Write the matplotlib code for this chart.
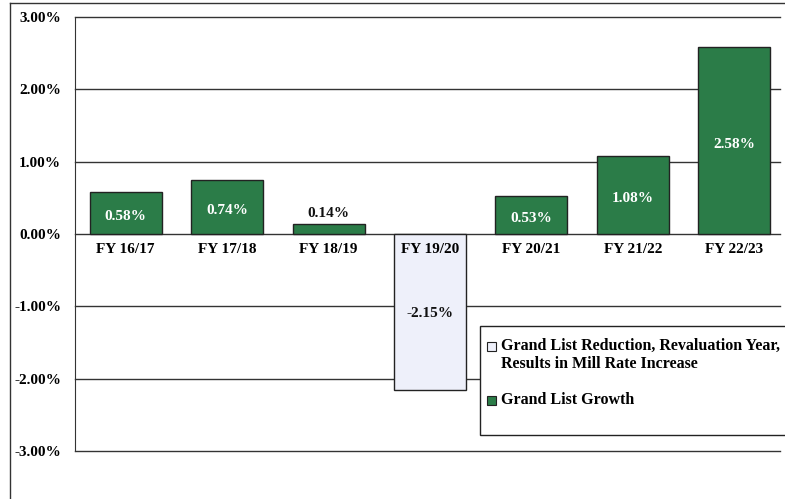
import matplotlib.pyplot as plt
from matplotlib.patches import Rectangle
from matplotlib.lines import Line2D

years = ['FY 16/17', 'FY 17/18', 'FY 18/19', 'FY 19/20', 'FY 20/21', 'FY 21/22', 'FY 22/23']
growth = [0.58, 0.74, 0.14, -2.15, 0.53, 1.08, 2.58]
yticks = [3, 2, 1, 0, -1, -2, -3]
legend_labels = ['Grand List Reduction, Revaluation Year,\nResults in Mill Rate Increase',
                 'Grand List Growth']

green = '#2b7c48'
pale = '#eef0fa'
serif = ['Liberation Serif', 'DejaVu Serif']

fig = plt.figure(figsize=(7.85, 4.99), dpi=100)
ax = fig.add_axes([75 / 785, 1 - 451 / 499, 705 / 785, 434 / 499])

colors = [pale if v < 0 else green for v in growth]
x = list(range(len(years)))
ax.bar(x, growth, width=0.71, color=colors, edgecolor='#222222', linewidth=1.0, zorder=3)

ax.set_xlim(-0.5, 6.45)
ax.set_ylim(-3, 3)
ax.set_yticks(yticks)
ax.set_yticklabels(['%.2f%%' % t for t in yticks], fontsize=11, fontweight='bold', family=serif)
ax.tick_params(axis='y', length=0, pad=10)
ax.set_xticks([])
for t in yticks:
    ax.axhline(t, color='#333333', lw=1.0, zorder=1, clip_on=False)
for s in ['top', 'right', 'bottom']:
    ax.spines[s].set_visible(False)
ax.spines['left'].set_color('#333333')

# category labels along the zero line
for i, name in enumerate(years):
    ax.text(i, -0.22, name, ha='center', va='center', fontsize=11,
            fontweight='bold', family=serif, zorder=4)

# value labels
for i, v in enumerate(growth):
    if v < 0:
        ax.text(i, v / 2 - 0.03, '%.2f%%' % v, ha='center', va='center',
                fontsize=11, fontweight='bold', family=serif, color='#111111', zorder=4)
    elif v < 0.3:
        ax.text(i, v + 0.15, '%.2f%%' % v, ha='center', va='center',
                fontsize=11, fontweight='bold', family=serif, color='#111111', zorder=4)
    else:
        ax.text(i, v / 2 - 0.05, '%.2f%%' % v, ha='center', va='center',
                fontsize=11, fontweight='bold', family=serif, color='white', zorder=4)

# legend box drawn by hand (cut by the right edge like the scan)
W, H = 785, 499
fig.add_artist(Rectangle((480 / W, 1 - 435 / H), 330 / W, 109 / H, transform=fig.transFigure,
                         facecolor='white', edgecolor='#222222', lw=1.0, zorder=5))
sw = 9
for (yy, lab, col) in [(346, legend_labels[0], pale), (400, legend_labels[1], green)]:
    fig.add_artist(Rectangle((487 / W, 1 - (yy + sw / 2) / H), sw / W, sw / H,
                             transform=fig.transFigure, facecolor=col,
                             edgecolor='#222222', lw=0.8, zorder=6))
    fig.text(501 / W, 1 - (yy - 8) / H, lab, ha='left', va='top', fontsize=11.5,
             fontweight='bold', family=serif, linespacing=1.15, zorder=6)

# outer frame of the scanned page
fig.add_artist(Line2D([10 / W, 10 / W], [0, 1 - 3 / H], transform=fig.transFigure,
                      color='#333333', lw=1.0))
fig.add_artist(Line2D([10 / W, 1], [1 - 3 / H, 1 - 3 / H], transform=fig.transFigure,
                      color='#333333', lw=1.0))

fig.savefig('out.png', dpi=100)
